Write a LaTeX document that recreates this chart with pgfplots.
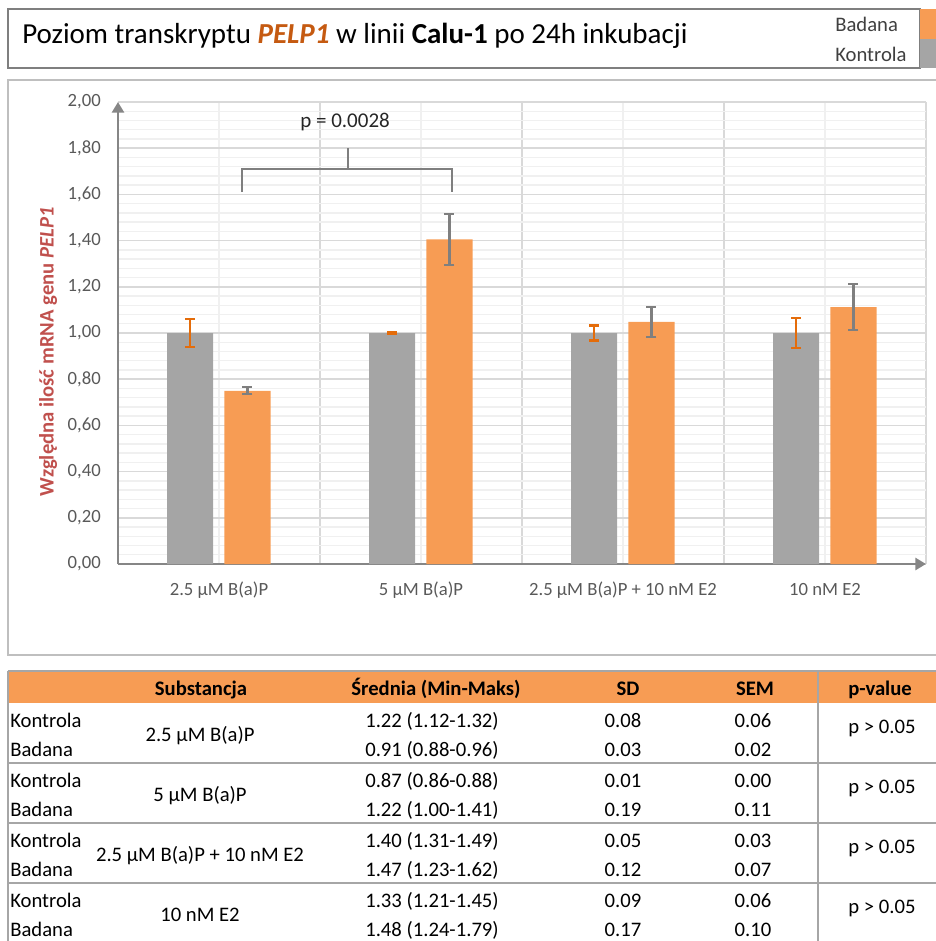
\documentclass[border=0pt]{standalone}
\usepackage{pgfplots}
\pgfplotsset{compat=1.18}
\usepackage{pgfplotstable}
\usepackage{fontspec}
\setmainfont{Carlito}
\usetikzlibrary{arrows.meta}
\definecolor{orng}{HTML}{F79C54}
\definecolor{bgray}{HTML}{A5A5A5}
\definecolor{eorng}{HTML}{E46C0A}
\definecolor{egray}{HTML}{7F7F7F}
\definecolor{axgray}{HTML}{868686}
\definecolor{ticktxt}{HTML}{595959}
\definecolor{ylab}{HTML}{C0504D}
\definecolor{titleor}{HTML}{C55A11}
\definecolor{legtxt}{HTML}{404040}
\definecolor{majg}{HTML}{D9D9D9}
\definecolor{ming}{HTML}{F0F0F0}
\definecolor{framec}{HTML}{BFBFBF}
\definecolor{tabline}{HTML}{A6A6A6}
\newcommand\fs[1]{\fontsize{#1}{#1}\selectfont}

% xg / xo: bar positions of Kontrola / Badana within each category (0..3)
\pgfplotstableread{
xg xo g ge o oe
-0.143 0.141 1.00 0.060 0.750 0.015
0.857 1.141 1.00 0.005 1.405 0.110
1.857 2.141 1.00 0.032 1.048 0.066
2.857 3.141 1.00 0.065 1.112 0.100
}\datatab

\begin{document}
\begin{tikzpicture}
\path[use as bounding box] (0,0) rectangle (701.25pt,-705.75pt);
\begin{scope}[x=0.75pt,y=-0.75pt]
  % chart frame
  \draw[framec, line width=1.1pt] (8,80) rectangle (937,655);
  % title box and legend
  \draw[egray, line width=1.1pt] (8,9) rectangle (920,68);
  \fill[orng] (920,9) rectangle (936,39);
  \fill[bgray] (920,39) rectangle (936,68);
  \node[anchor=base west, inner sep=0pt, font=\fs{21.75pt}] at (22,44)
    {Poziom transkryptu \textcolor{titleor}{\textbf{\textit{PELP1}}} w linii \textbf{Calu-1} po 24h inkubacji};
  \node[anchor=base west, inner sep=0pt, text=legtxt, font=\fs{15.5pt}] at (835,32) {Badana};
  \node[anchor=base west, inner sep=0pt, text=legtxt, font=\fs{15.5pt}] at (835,62) {Kontrola};
  % y label
  \node[rotate=90, inner sep=0pt, text=ylab, font=\fs{15.5pt}\bfseries] at (48,352)
    {Względna ilość mRNA genu \textit{PELP1}};
  % table
  \fill[orng] (8,671) rectangle (936,703);
  \draw[tabline, line width=1.1pt] (8,671) -- (936,671);
  \draw[tabline, line width=1.1pt] (8,671) -- (8,942);
  \draw[tabline, line width=1.1pt] (818,671) -- (818,942);
  \foreach \yy in {763,823,883} {\draw[tabline, line width=1.1pt] (8,\yy) -- (936,\yy);}
  \tikzset{tb/.style={anchor=base, inner sep=0pt, font=\fs{15.5pt}}}
  \node[tb] at (201,695) {\bfseries Substancja};
  \node[tb] at (436,695) {\bfseries Średnia (Min-Maks)};
  \node[tb] at (628,695) {\bfseries SD};
  \node[tb] at (755,695) {\bfseries SEM};
  \node[tb] at (880,695) {\bfseries p-value};
  \newcommand\trow[5]{%
    \node[tb, anchor=base west] at (10,#1) {#2};
    \node[tb] at (432,#1) {#3};
    \node[tb] at (623,#1) {#4};
    \node[tb] at (753,#1) {#5};}
  \trow{727}{Kontrola}{1.22 (1.12-1.32)}{0.08}{0.06}
  \trow{756}{Badana}{0.91 (0.88-0.96)}{0.03}{0.02}
  \trow{787}{Kontrola}{0.87 (0.86-0.88)}{0.01}{0.00}
  \trow{816}{Badana}{1.22 (1.00-1.41)}{0.19}{0.11}
  \trow{847}{Kontrola}{1.40 (1.31-1.49)}{0.05}{0.03}
  \trow{876}{Badana}{1.47 (1.23-1.62)}{0.12}{0.07}
  \trow{907}{Kontrola}{1.33 (1.21-1.45)}{0.09}{0.06}
  \trow{936}{Badana}{1.48 (1.24-1.79)}{0.17}{0.10}
  \node[tb] at (200,741) {2.5 µM B(a)P};
  \node[tb] at (200,801) {5 µM B(a)P};
  \node[tb] at (200,861) {2.5 µM B(a)P + 10 nM E2};
  \node[tb] at (200,921) {10 nM E2};
  \foreach \yy in {733,793,853,913} {\node[tb] at (882,\yy) {p > 0.05};}
\end{scope}

\begin{axis}[
  at={(88.5pt,-423pt)}, anchor=south west,
  scale only axis, width=606pt, height=346.5pt,
  xmin=-0.5, xmax=3.5, ymin=0, ymax=2,
  axis lines=left,
  axis line style={axgray, line width=2pt, -{Triangle[length=8pt,width=9pt]}},
  xtick={0,1,2,3},
  xticklabels={2.5 µM B(a)P, 5 µM B(a)P, 2.5 µM B(a)P + 10 nM E2, 10 nM E2},
  minor xtick={0.5,1.5,2.5,3.5},
  ytick={0,0.2,...,2.01},
  minor y tick num=4,
  grid=both,
  major tick length=0pt, minor tick length=0pt,
  major x grid style={ming, line width=1.1pt},
  minor x grid style={majg, line width=1.1pt},
  major y grid style={majg, line width=1.1pt},
  minor y grid style={ming, line width=1.1pt},
  /pgf/number format/assume math mode=true,
  yticklabel style={font=\fs{14pt}, text=ticktxt, anchor=east, inner sep=0pt, xshift=-12.75pt,
    /pgf/number format/.cd, fixed, fixed zerofill, precision=2, use comma},
  xticklabel style={font=\fs{14pt}, text=ticktxt, anchor=base, inner sep=0pt, yshift=-23.25pt},
  clip=false,
]
\addplot[ybar, bar width=0.228, bar shift=0pt, fill=bgray, draw=none,
  error bars/.cd, y dir=both, y explicit,
  error bar style={eorng, line width=1.7pt},
  error mark options={rotate=90, eorng, line width=1.7pt, mark size=3.75pt}]
  table[x=xg, y=g, y error=ge]{\datatab};
\addplot[ybar, bar width=0.228, bar shift=0pt, fill=orng, draw=none,
  error bars/.cd, y dir=both, y explicit,
  error bar style={egray, line width=1.7pt},
  error mark options={rotate=90, egray, line width=1.7pt, mark size=3.75pt}]
  table[x=xo, y=o, y error=oe]{\datatab};
\draw[egray, line width=1.2pt] (axis cs:0.114,1.61) -- (axis cs:0.114,1.71) -- (axis cs:1.153,1.71) -- (axis cs:1.153,1.61);
\draw[egray, line width=1.2pt] (axis cs:0.639,1.71) -- (axis cs:0.639,1.80);
\node[font=\fs{15.75pt}, text=black!85, inner sep=0pt] at (axis cs:0.624,1.915) {p = 0.0028};
\end{axis}
\end{tikzpicture}
\end{document}
